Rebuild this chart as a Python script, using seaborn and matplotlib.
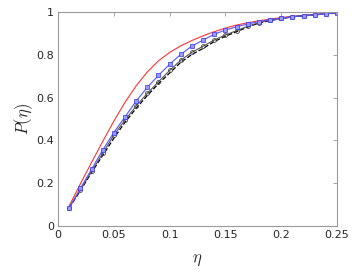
import numpy as np
import pandas as pd
import matplotlib
matplotlib.use("Agg")
import matplotlib.pyplot as plt
import seaborn as sns

# valeurs
eta = [0.01, 0.02, 0.03, 0.04, 0.05, 0.06, 0.07, 0.08, 0.09, 0.10, 0.11, 0.12, 0.13,
       0.14, 0.15, 0.16, 0.17, 0.18, 0.19, 0.20, 0.21, 0.22, 0.23, 0.24, 0.25]
p_rouge = [0.095, 0.197, 0.297, 0.395, 0.49, 0.578, 0.655, 0.72, 0.772, 0.811, 0.842, 0.867, 0.889,
           0.908, 0.925, 0.939, 0.95, 0.959, 0.967, 0.974, 0.98, 0.985, 0.989, 0.993, 0.996]
p_bleu = [0.086, 0.176, 0.265, 0.355, 0.437, 0.51, 0.584, 0.648, 0.704, 0.756, 0.802, 0.841, 0.869,
          0.896, 0.916, 0.931, 0.944, 0.955, 0.964, 0.971, 0.978, 0.983, 0.987, 0.992, 0.997]
p_gris = [0.086, 0.17, 0.255, 0.34, 0.425, 0.495, 0.561, 0.62, 0.674, 0.727, 0.775, 0.812, 0.84,
          0.869, 0.893, 0.913, 0.934, 0.95, 0.962, 0.97, 0.978, 0.983, 0.987, 0.991, 0.996]
p_noir = [0.085, 0.165, 0.25, 0.33, 0.41, 0.485, 0.55, 0.61, 0.665, 0.715, 0.765, 0.802, 0.83,
          0.862, 0.887, 0.908, 0.93, 0.948, 0.96, 0.969, 0.977, 0.982, 0.987, 0.991, 0.995]

sns.set_style("white")
plt.rcParams['mathtext.fontset'] = 'cm'
plt.rcParams['font.family'] = ['DejaVu Sans']

fig = plt.figure(figsize=(3.54, 2.73), dpi=100)
ax = fig.add_axes([0.164, 0.172, 0.788, 0.784])

sns.lineplot(x=eta, y=p_rouge, color='#ff3333', linewidth=0.8, ax=ax)
sns.lineplot(x=eta, y=p_noir, color='black', linewidth=0.9, linestyle='--', ax=ax)
sns.lineplot(x=eta, y=p_gris, color='#555555', linewidth=0.8, marker='o', markersize=2.8,
             markerfacecolor='none', markeredgecolor='#444444', markeredgewidth=0.6, ax=ax)
sns.lineplot(x=eta, y=p_bleu, color='#5555ff', linewidth=0.8, marker='s', markersize=2.4,
             markerfacecolor='#9999ff', markeredgecolor='#3333ee', markeredgewidth=0.5, ax=ax)

ax.set_xlim(0, 0.25)
ax.set_ylim(0, 1)
ax.set_xticks([0, 0.05, 0.1, 0.15, 0.2, 0.25])
ax.set_xticklabels(['0', '0.05', '0.1', '0.15', '0.2', '0.25'])
ax.set_yticks([0, 0.2, 0.4, 0.6, 0.8, 1])
ax.set_yticklabels(['0', '0.2', '0.4', '0.6', '0.8', '1'])
ax.tick_params(direction='in', length=3, width=0.6, colors='#999999', labelcolor='#262626',
               labelsize=8, top=True, right=True, pad=3)
for s in ax.spines.values():
    s.set_color('#999999')
    s.set_linewidth(0.8)

ax.set_xlabel(r'$\eta$', fontsize=12, labelpad=7)
ax.set_ylabel(r'$P(\eta)$', fontsize=12, labelpad=1)

fig.savefig('out.png', dpi=100)
